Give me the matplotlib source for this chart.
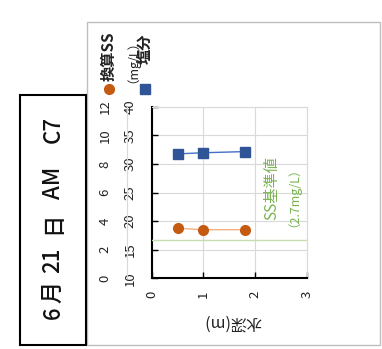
import matplotlib
matplotlib.use("Agg")
import matplotlib.pyplot as plt
from matplotlib.patches import Rectangle
from matplotlib.lines import Line2D

plt.rcParams['font.family'] = ['Noto Sans CJK JP', 'DejaVu Sans']

# data
depth = [0.5, 1.0, 1.8]
salinity = [31.75, 31.95, 32.15]
ss = [3.5, 3.4, 3.4]
ss_standard = 2.7
depth_ticks = [0, 1, 2, 3]
sal_ticks = [10, 15, 20, 25, 30, 35, 40]
ss_ticks = [0, 2, 4, 6, 8, 10, 12]
title_parts = ["6", "月", "21", "日", "AM", "C7"]

W, H = 382, 349
fig = plt.figure(figsize=(W / 100, H / 100), dpi=100)

def fx(px):
    return px / W

def fy(py):
    return 1 - py / H

# outer border and title box
fig.add_artist(Rectangle((fx(87), fy(345)), fx(380) - fx(87), fy(22) - fy(345),
                         transform=fig.transFigure, fill=False, ec='#BFBFBF', lw=1))
fig.add_artist(Rectangle((fx(20), fy(345)), fx(86) - fx(20), fy(95) - fy(345),
                         transform=fig.transFigure, fill=False, ec='black', lw=1.5))
title_y = [313, 292, 260, 223, 183, 130]
for part, py in zip(title_parts, title_y):
    fig.text(fx(53), fy(py), part, rotation=90, ha='center', va='center',
             fontsize=16, fontweight='medium', color='#111111')

ax = fig.add_axes([fx(151.7), fy(278.3), fx(306.7) - fx(151.7), fy(106.7) - fy(278.3)])
ax.set_xlim(0, 3)
ax.set_ylim(10, 40)
ax.set_xticks(depth_ticks)
ax.set_yticks(sal_ticks)
ax.grid(True, color='#D9D9D9', lw=0.8)
ax.set_axisbelow(True)
for s in ['top', 'right']:
    ax.spines[s].set_color('#D9D9D9')
for s in ['left', 'bottom']:
    ax.spines[s].set_color('black')
    ax.spines[s].set_linewidth(1.5)
ax.tick_params(axis='both', direction='in', length=4, width=1, labelsize=9.5,
               labelcolor='#222222')
ax.tick_params(axis='y', labelrotation=90, pad=11)
ax.tick_params(axis='x', labelrotation=90, pad=9)
for lab in ax.get_yticklabels():
    lab.set_va('center')
for lab in ax.get_xticklabels():
    lab.set_ha('center')

ax.set_xlabel("水深(m)", rotation=180, fontsize=11.5, color='#222222')
ax.xaxis.set_label_coords(0.525, -0.255)
ax.xaxis.label.set_va('center')

ax.plot(depth, salinity, color='#4472C4', lw=1, marker='s', ms=7,
        mfc='#2F5597', mec='#2F5597', zorder=3)

ax2 = ax.twinx()
ax2.set_ylim(0, 12)
ax2.set_yticks(ss_ticks)
ax2.yaxis.tick_left()
ax2.spines['left'].set_visible(True)
ax2.spines['left'].set_position(('outward', 18))
ax2.spines['left'].set_color('#D9D9D9')
ax2.spines['left'].set_linewidth(0.8)
for s in ['top', 'right', 'bottom']:
    ax2.spines[s].set_visible(False)
ax2.tick_params(axis='y', length=0, labelsize=9.5, labelrotation=90, pad=11,
                labelcolor='#222222')
for lab in ax2.get_yticklabels():
    lab.set_va('center')

ax2.axhline(ss_standard, color='#C5DDB0', lw=1, zorder=2)
ax2.plot(depth, ss, color='#F4B183', lw=1, marker='o', ms=7,
         mfc='#C55A11', mec='#C55A11', zorder=3)

# standard annotation
fig.text(fx(271.5), fy(188.5), "SS基準値", rotation=90, ha='center', va='center',
         fontsize=11, color='#78B450')
fig.text(fx(287.5), fy(190.5), "（2.7mg/L）", rotation=90, ha='center', va='center',
         fontsize=9, color='#78B450')

# legend
fig.add_artist(Line2D([fx(108.5)], [fy(88.5)], marker='o', ms=7, color='#C55A11',
                      transform=fig.transFigure))
fig.text(fx(108.5), fy(81), "換算SS", rotation=90, rotation_mode='anchor',
         ha='left', va='center', fontsize=11, fontweight='bold', color='#222222')
fig.text(fx(126), fy(83), "（mg/L）", rotation=90, rotation_mode='anchor',
         ha='left', va='center', fontsize=9, color='#222222')
fig.add_artist(Line2D([fx(145)], [fy(89)], marker='s', ms=6.5, color='#2F5597',
                      transform=fig.transFigure))
fig.text(fx(144), fy(64), "塩分", rotation=90, rotation_mode='anchor',
         ha='left', va='center', fontsize=11, fontweight='bold', color='#222222')

fig.savefig("out.png", dpi=100)
